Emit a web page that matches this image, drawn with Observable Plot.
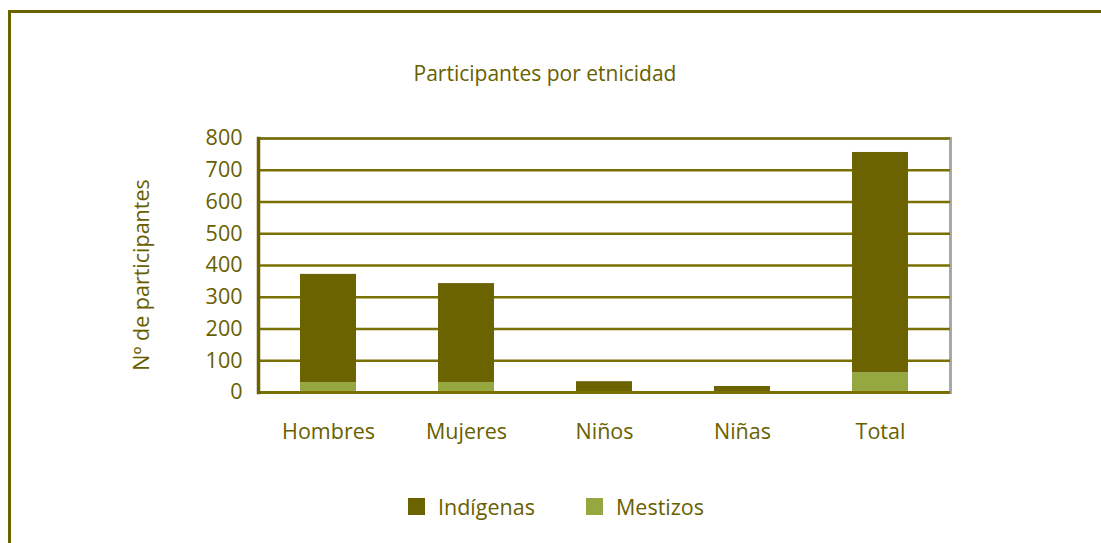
<!DOCTYPE html>
<html>
<head>
<meta charset="utf-8">
<script src="https://cdn.jsdelivr.net/npm/d3@7"></script>
<script src="https://cdn.jsdelivr.net/npm/@observablehq/plot@0.6"></script>
<style>
  html, body { margin: 0; padding: 0; background: #fff; }
  body { width: 1101px; height: 543px; position: relative; overflow: hidden; font-family: "Open Sans", sans-serif; color: #686000; }
  #frame { position: absolute; left: 8px; top: 10px; width: 1200px; height: 600px; border-left: 3px solid #6b6200; border-top: 3px solid #6b6200; }
  #title { position: absolute; left: 0; width: 1090px; top: 59px; text-align: center; font-size: 21px; }
  #ylabel { position: absolute; left: 140px; top: 275px; transform: translate(-50%, -50%) rotate(-90deg); white-space: nowrap; font-size: 21.5px; }
  #chart { position: absolute; left: 0; top: 120px; }
  #legend { position: absolute; top: 492px; left: 0; width: 1101px; font-size: 21.5px; }
  .item { position: absolute; display: flex; align-items: center; }
  .sw { width: 17px; height: 17px; margin-right: 13px; }
</style>
</head>
<body>
<div id="frame"></div>
<div id="title">Participantes por etnicidad</div>
<div id="ylabel">Nº de participantes</div>
<div id="chart"></div>
<div id="legend"></div>
<script>
const categories = ["Hombres", "Mujeres", "Niños", "Niñas", "Total"];
const seriesNames = ["Indígenas", "Mestizos"];
const indigenas = [341, 312, 34, 19, 694];
const mestizos = [31, 31, 0, 0, 62];
const yTicks = [0, 100, 200, 300, 400, 500, 600, 700, 800];

const dark = "#6b6200";
const light = "#94a83f";
const textColor = "#686000";

const data = [];
categories.forEach((c, i) => {
  data.push({category: c, series: "Mestizos", value: mestizos[i]});
  data.push({category: c, series: "Indígenas", value: indigenas[i]});
});

const chart = Plot.plot({
  width: 1101,
  height: 340,
  marginLeft: 258,
  marginRight: 151,
  marginTop: 18,
  marginBottom: 68,
  style: {fontFamily: "Open Sans, sans-serif", fontSize: "21.5px", color: textColor, background: "transparent", overflow: "visible"},
  x: {domain: categories, paddingInner: 0.595, paddingOuter: 0.2975, label: null},
  y: {domain: [0, 800], label: null},
  color: {domain: seriesNames, range: [dark, light]},
  marks: [
    Plot.frame({stroke: "#a8a8a8", strokeWidth: 3}),
    Plot.ruleY(yTicks, {stroke: "#7a7000", strokeWidth: 2.5}),
    Plot.barY(data, {x: "category", y: "value", fill: "series", order: ["Mestizos", "Indígenas"]}),
    Plot.ruleY([0], {stroke: "#7a7000", strokeWidth: 3}),
    Plot.frame({anchor: "left", stroke: dark, strokeWidth: 3.5}),
    Plot.axisY({ticks: yTicks, tickSize: 0, tickPadding: 16, label: null, fill: textColor}),
    Plot.axisX({tickSize: 0, tickPadding: 31, label: null, fill: textColor})
  ]
});
document.getElementById("chart").appendChild(chart);

const legend = document.getElementById("legend");
const legendX = [408, 586];
seriesNames.forEach((s, i) => {
  const item = document.createElement("div");
  item.className = "item";
  item.style.left = legendX[i] + "px";
  const sw = document.createElement("div");
  sw.className = "sw";
  sw.style.background = i === 0 ? dark : light;
  const t = document.createElement("span");
  t.textContent = s;
  item.appendChild(sw);
  item.appendChild(t);
  legend.appendChild(item);
});
</script>
</body>
</html>
